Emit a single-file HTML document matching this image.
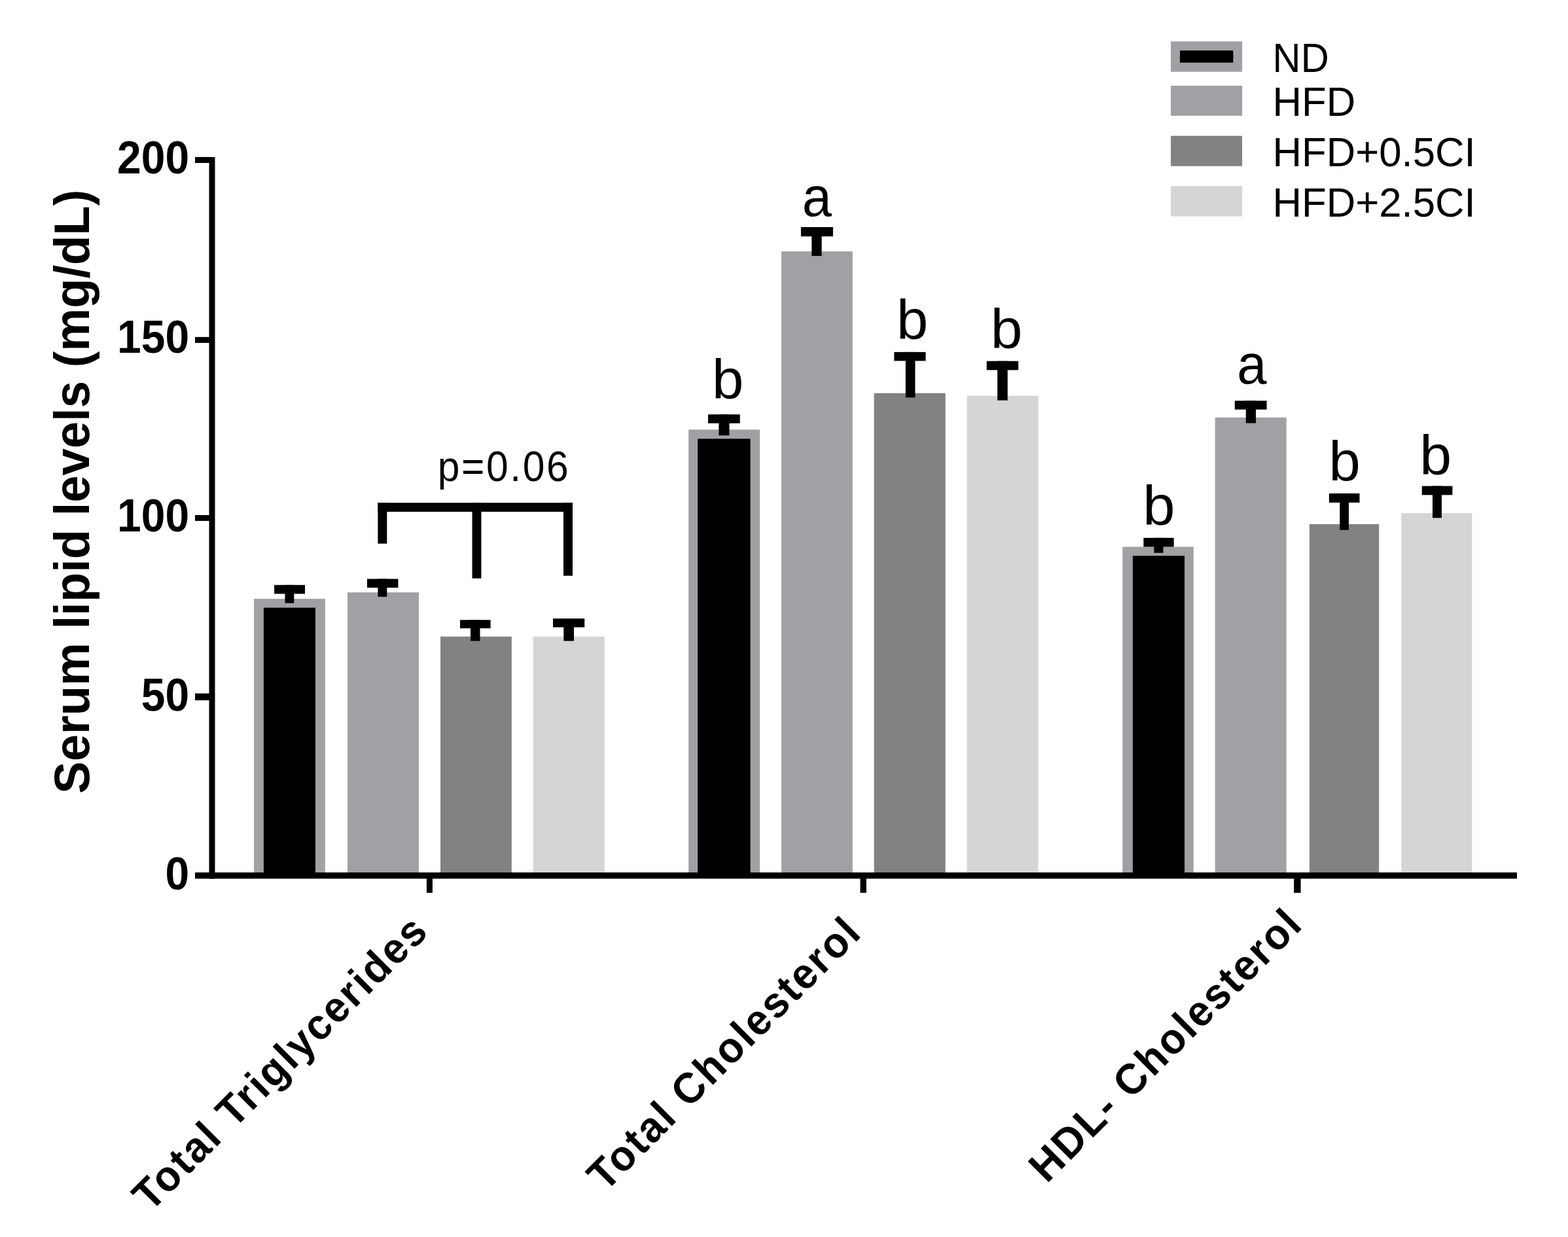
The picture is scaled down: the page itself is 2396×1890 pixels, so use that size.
<!DOCTYPE html>
<html lang="en">
<head>
<meta charset="utf-8">
<title>Serum lipid levels</title>
<style>
html,body{margin:0;padding:0;background:#fff;}
body{width:2396px;height:1890px;overflow:hidden;}
svg{display:block;}
svg text{font-family:"Liberation Sans",Arial,Helvetica,sans-serif;fill:#000;}
</style>
</head>
<body>
<svg width="2396" height="1890" viewBox="0 0 2396 1890">
<rect x="0" y="0" width="2396" height="1890" fill="#fff"/>
<rect x="388.00" y="914.90" width="108.80" height="419.10" fill="#a1a0a5"/>
<rect x="402.90" y="928.50" width="79.00" height="405.50" fill="#000"/>
<rect x="531.00" y="905.10" width="109.00" height="428.90" fill="#a1a0a5"/>
<rect x="673.00" y="972.60" width="108.80" height="361.40" fill="#828282"/>
<rect x="814.70" y="972.60" width="109.00" height="361.40" fill="#d5d5d5"/>
<rect x="1052.10" y="656.40" width="109.00" height="677.60" fill="#a1a0a5"/>
<rect x="1066.10" y="670.40" width="80.50" height="663.60" fill="#000"/>
<rect x="1194.00" y="384.10" width="108.80" height="949.90" fill="#a1a0a5"/>
<rect x="1335.60" y="600.70" width="109.10" height="733.30" fill="#828282"/>
<rect x="1477.50" y="604.70" width="109.10" height="729.30" fill="#d5d5d5"/>
<rect x="1715.30" y="835.50" width="108.50" height="498.50" fill="#a1a0a5"/>
<rect x="1730.90" y="849.20" width="79.20" height="484.80" fill="#000"/>
<rect x="1856.70" y="637.90" width="109.00" height="696.10" fill="#a1a0a5"/>
<rect x="2000.90" y="800.80" width="106.30" height="533.20" fill="#828282"/>
<rect x="2141.30" y="784.10" width="108.00" height="549.90" fill="#d5d5d5"/>
<rect x="319.50" y="240.00" width="9.00" height="1102.50" fill="#000"/>
<rect x="298.00" y="1333.00" width="2020.00" height="9.50" fill="#000"/>
<rect x="298.00" y="239.90" width="24.00" height="9.10" fill="#000"/>
<rect x="298.00" y="514.90" width="24.00" height="9.00" fill="#000"/>
<rect x="298.00" y="787.00" width="24.00" height="8.90" fill="#000"/>
<rect x="298.00" y="1059.50" width="24.00" height="10.50" fill="#000"/>
<rect x="651.90" y="1341.50" width="9.00" height="22.70" fill="#000"/>
<rect x="1314.50" y="1341.50" width="9.30" height="22.70" fill="#000"/>
<rect x="1977.20" y="1341.50" width="10.40" height="22.70" fill="#000"/>
<rect x="419.10" y="893.80" width="46.90" height="13.50" fill="#000"/>
<rect x="435.50" y="893.80" width="13.80" height="27.70" fill="#000"/>
<rect x="561.00" y="884.50" width="47.40" height="13.40" fill="#000"/>
<rect x="577.40" y="884.50" width="13.90" height="27.30" fill="#000"/>
<rect x="703.00" y="947.20" width="46.60" height="12.80" fill="#000"/>
<rect x="719.00" y="947.20" width="14.50" height="32.10" fill="#000"/>
<rect x="845.00" y="945.00" width="48.20" height="13.40" fill="#000"/>
<rect x="861.30" y="945.00" width="15.70" height="34.30" fill="#000"/>
<rect x="1082.00" y="633.20" width="48.70" height="13.50" fill="#000"/>
<rect x="1098.40" y="633.20" width="16.10" height="32.10" fill="#000"/>
<rect x="1223.90" y="347.00" width="49.00" height="14.20" fill="#000"/>
<rect x="1240.30" y="347.00" width="15.30" height="44.10" fill="#000"/>
<rect x="1366.30" y="537.90" width="48.20" height="13.50" fill="#000"/>
<rect x="1383.80" y="537.90" width="14.60" height="69.50" fill="#000"/>
<rect x="1507.70" y="551.70" width="48.40" height="13.70" fill="#000"/>
<rect x="1524.10" y="551.70" width="15.60" height="60.00" fill="#000"/>
<rect x="1747.40" y="821.80" width="46.30" height="13.70" fill="#000"/>
<rect x="1763.50" y="821.80" width="14.00" height="22.90" fill="#000"/>
<rect x="1886.80" y="612.30" width="48.80" height="13.40" fill="#000"/>
<rect x="1903.80" y="612.30" width="15.30" height="34.20" fill="#000"/>
<rect x="2030.90" y="753.90" width="46.60" height="14.00" fill="#000"/>
<rect x="2047.30" y="753.90" width="13.70" height="55.80" fill="#000"/>
<rect x="2172.80" y="742.60" width="46.60" height="13.70" fill="#000"/>
<rect x="2189.00" y="742.60" width="14.00" height="48.70" fill="#000"/>
<rect x="577.40" y="768.20" width="297.60" height="13.70" fill="#000"/>
<rect x="577.40" y="768.20" width="13.90" height="62.40" fill="#000"/>
<rect x="721.50" y="768.20" width="13.90" height="115.50" fill="#000"/>
<rect x="861.00" y="768.20" width="14.00" height="111.50" fill="#000"/>
<text transform="translate(668.80,734.80) scale(1,1.084)" font-size="60.5" letter-spacing="2.63">p=0.06</text>
<text transform="translate(1087.90,609.17) scale(1.011,0.9928)" font-size="86">b</text>
<text transform="translate(1225.85,329.77) scale(0.944,0.9848)" font-size="86">a</text>
<text transform="translate(1369.91,518.17) scale(1.0084,0.988)" font-size="86">b</text>
<text transform="translate(1513.67,531.97) scale(1.0162,0.9849)" font-size="86">b</text>
<text transform="translate(1746.18,802.36) scale(1.0317,0.9975)" font-size="86">b</text>
<text transform="translate(1890.34,585.87) scale(0.9462,0.9933)" font-size="86">a</text>
<text transform="translate(2030.41,734.27) scale(1.0084,0.9896)" font-size="86">b</text>
<text transform="translate(2169.34,725.36) scale(1.0213,0.9944)" font-size="86">b</text>
<text transform="translate(289.10,265.10) scale(1,1.055)" font-size="66" font-weight="bold" text-anchor="end">200</text>
<text transform="translate(289.10,539.10) scale(1,1.055)" font-size="66" font-weight="bold" text-anchor="end">150</text>
<text transform="translate(289.10,811.60) scale(1,1.055)" font-size="66" font-weight="bold" text-anchor="end">100</text>
<text transform="translate(289.10,1085.80) scale(1,1.055)" font-size="66" font-weight="bold" text-anchor="end">50</text>
<text transform="translate(289.10,1359.30) scale(1,1.055)" font-size="66" font-weight="bold" text-anchor="end">0</text>
<text transform="translate(135.50,751.20) rotate(-90) scale(1.0024,1.025)" font-size="74" font-weight="bold" text-anchor="middle">Serum lipid levels (mg/dL)</text>
<text transform="translate(658.10,1424.90) rotate(-45) scale(1,1.04)" font-size="63" font-weight="bold" text-anchor="end" letter-spacing="2.837">Total Triglycerides</text>
<text transform="translate(1319.80,1427.30) rotate(-45) scale(1,1.04)" font-size="63" font-weight="bold" text-anchor="end" letter-spacing="2.882">Total Cholesterol</text>
<text transform="translate(1993.90,1414.80) rotate(-45) scale(1,1.04)" font-size="63" font-weight="bold" text-anchor="end" letter-spacing="2.711">HDL- Cholesterol</text>
<rect x="1789.10" y="63.30" width="109.00" height="46.40" fill="#a1a0a5"/>
<rect x="1803.00" y="77.20" width="81.40" height="18.50" fill="#000"/>
<rect x="1789.10" y="131.00" width="109.00" height="45.90" fill="#a1a0a5"/>
<rect x="1789.10" y="207.60" width="109.00" height="46.20" fill="#828282"/>
<rect x="1789.10" y="284.30" width="109.00" height="46.30" fill="#d5d5d5"/>
<text transform="translate(1944.61,109.70) scale(0.967,1.03)" font-size="61.7">ND</text>
<text transform="translate(1944.44,176.90) scale(1,1.03)" font-size="61.7">HFD</text>
<text transform="translate(1944.44,254.10) scale(1,1.03)" font-size="61.7">HFD+0.5CI</text>
<text transform="translate(1944.44,331.00) scale(1,1.03)" font-size="61.7">HFD+2.5CI</text>
</svg>
</body>
</html>
